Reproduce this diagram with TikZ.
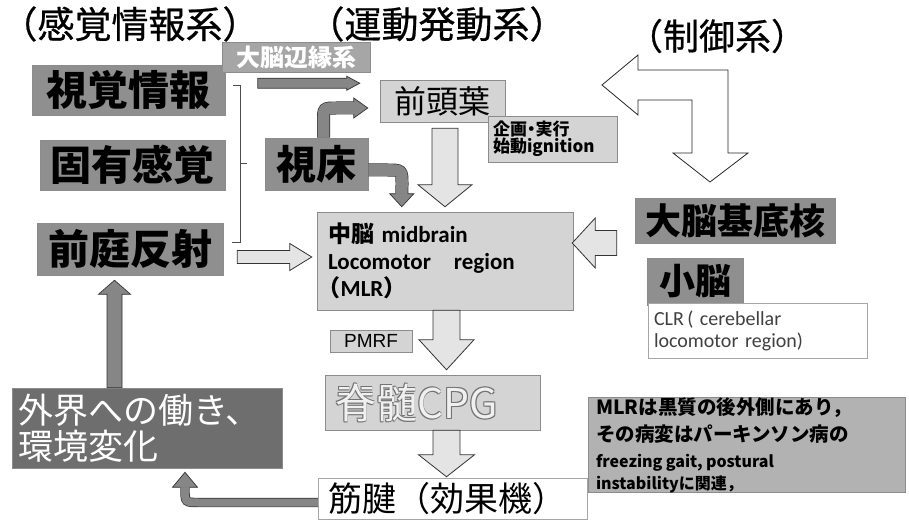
\documentclass[tikz,border=0pt]{standalone}
\usepackage{fontspec}
\setmainfont{Noto Sans CJK JP}
\newfontfamily\jpheavy{Noto Sans CJK JP}[FakeBold=0.6]
\newfontfamily\calfont{Carlito}
\newfontfamily\arialfont{Liberation Sans}
\usetikzlibrary{calc}
\definecolor{boxmid}{HTML}{8F8F8F}
\definecolor{boxlight}{HTML}{D4D4D4}
\definecolor{boxdark}{HTML}{6E6E6E}
\definecolor{arrgray}{HTML}{868686}
\definecolor{notegray}{HTML}{B2B2B2}
\definecolor{labgray}{HTML}{A6A6A6}
\definecolor{arrlight}{HTML}{E4E4E4}
\newcommand{\fixls}{\lineskiplimit=-100pt\relax}
\newcommand{\embtext}[1]{\leavevmode
 \rlap{\hspace{-0.9pt}\raisebox{0.9pt}{\textcolor{black!55}{#1}}}%
 \rlap{\hspace{0.9pt}\raisebox{-0.9pt}{\textcolor{black!55}{#1}}}%
 \rlap{\hspace{0.9pt}\raisebox{0.9pt}{\textcolor{black!55}{#1}}}%
 \rlap{\hspace{-0.9pt}\raisebox{-0.9pt}{\textcolor{black!55}{#1}}}%
 \textcolor{white!94!black}{#1}}
% block arrows: style, from, to, half shaft, half head, head length
\newcommand{\blkright}[6]{\draw[#1] let \p1=(#2), \p2=(#3) in (\x1,\y1+#4) -- (\x2-#6,\y1+#4) -- (\x2-#6,\y1+#5) -- (\x2,\y1) -- (\x2-#6,\y1-#5) -- (\x2-#6,\y1-#4) -- (\x1,\y1-#4) -- cycle;}
\newcommand{\blkleft}[6]{\draw[#1] let \p1=(#2), \p2=(#3) in (\x1,\y1+#4) -- (\x2+#6,\y1+#4) -- (\x2+#6,\y1+#5) -- (\x2,\y1) -- (\x2+#6,\y1-#5) -- (\x2+#6,\y1-#4) -- (\x1,\y1-#4) -- cycle;}
\newcommand{\blkdown}[6]{\draw[#1] let \p1=(#2), \p2=(#3) in (\x1-#4,\y1) -- (\x1-#4,\y2+#6) -- (\x1-#5,\y2+#6) -- (\x1,\y2) -- (\x1+#5,\y2+#6) -- (\x1+#4,\y2+#6) -- (\x1+#4,\y1) -- cycle;}
\newcommand{\blkup}[6]{\draw[#1] let \p1=(#2), \p2=(#3) in (\x1-#4,\y1) -- (\x1-#4,\y2-#6) -- (\x1-#5,\y2-#6) -- (\x1,\y2) -- (\x1+#5,\y2-#6) -- (\x1+#4,\y2-#6) -- (\x1+#4,\y1) -- cycle;}
% heads for curved dark arrows: tip, half shaft, half head, length
\newcommand{\headright}[4]{%
 \fill[arrgray] ($(#1)+(-#4,-#3)$) -- (#1) -- ($(#1)+(-#4,#3)$) -- cycle;
 \draw[darkhead] ($(#1)+(-#4,-#2)$) -- ($(#1)+(-#4,-#3)$) -- (#1) -- ($(#1)+(-#4,#3)$) -- ($(#1)+(-#4,#2)$);}
\newcommand{\headdown}[4]{%
 \fill[arrgray] ($(#1)+(-#3,-#4)$) -- (#1) -- ($(#1)+(#3,-#4)$) -- cycle;
 \draw[darkhead] ($(#1)+(-#2,-#4)$) -- ($(#1)+(-#3,-#4)$) -- (#1) -- ($(#1)+(#3,-#4)$) -- ($(#1)+(#2,-#4)$);}
\newcommand{\headup}[4]{%
 \fill[arrgray] ($(#1)+(-#3,#4)$) -- (#1) -- ($(#1)+(#3,#4)$) -- cycle;
 \draw[darkhead] ($(#1)+(-#2,#4)$) -- ($(#1)+(-#3,#4)$) -- (#1) -- ($(#1)+(#3,#4)$) -- ($(#1)+(#2,#4)$);}
\begin{document}
\begin{tikzpicture}[x=1pt,y=-1pt,
  title/.style={inner sep=0pt, font=\jpheavy\fontsize{37}{44}\selectfont},
  box/.style={rectangle, inner sep=0pt, draw=black!45, line width=0.5pt},
  midbox/.style={box, fill=boxmid, font=\bfseries\fontsize{41}{48}\selectfont},
  lightbox/.style={box, fill=boxlight},
  whitebox/.style={box, fill=white, draw=black!35},
  sz/.style 2 args={minimum width=#1pt, minimum height=#2pt},
  holl/.style={fill=arrlight, draw=black!80, line width=0.8pt, line join=miter},
  hollw/.style={fill=white, draw=black!85, line width=0.8pt, line join=miter},
  dark/.style={fill=arrgray, draw=black!80, line width=0.7pt},
  darkshaft/.style={draw=black!80, line width=0.7pt, double=arrgray},
  darkhead/.style={draw=black!80, line width=0.7pt},
  bracket/.style={draw=black!70, line width=0.6pt}
]
\useasboundingbox (0,0) rectangle (909,521);
\fill[white] (0,0) rectangle (909,521);

% titles
\node[title] (t1) at (130,24) {（感覚情報系）};
\node[title] (t2) at (437,24) {（運動発動系）};
\node[title, font=\jpheavy\fontsize{36}{42}\selectfont] (t3) at (717,36) {（制御系）};

% sensory column
\node[midbox, sz={193}{50}] (vis) at (128.5,90) {視覚情報};
\node[midbox, sz={185}{50}] (prop) at (132.5,165) {固有感覚};
\node[midbox, sz={186}{52}] (vest) at (130,249) {前庭反射};
\node[box, fill=boxdark, sz={270}{80}, inner xsep=6pt, text width=258pt, align=left, text=white, font=\fontsize{35}{36}\selectfont\fixls] (env) at (147,428) {外界への働き、\\環境変化};

% motor column
\node[box, fill=labgray, sz={148}{30}, text=white, font=\bfseries\fontsize{24}{28}\selectfont] (limbic) at (296,57) {大脳辺縁系};
\node[lightbox, sz={125}{42}, font=\fontsize{32}{36}\selectfont] (front) at (442.5,101) {前頭葉};
\node[lightbox, sz={129}{46}, inner xsep=5pt, text width=119pt, align=left, font=\bfseries\fontsize{17}{17}\selectfont\fixls] (plan) at (552.5,139) {企画\kern-0.25em・\kern-0.25em実行\\始動ignition};
\node[midbox, sz={103}{52}, font=\bfseries\fontsize{40}{46}\selectfont] (thal) at (316.5,164) {視床};
\node[lightbox, sz={256}{98}, inner xsep=11pt, text width=234pt, align=left, font=\bfseries\fontsize{23}{27}\selectfont\fixls] (mlr) at (445,261) {中脳 {\calfont midbrain}\\{\calfont Locomotor\ \ \ region}\\\hspace*{-0.45em}（{\calfont MLR}）};
\node[lightbox, sz={82}{22}, font=\arialfont\fontsize{19}{22}\selectfont] (pmrf) at (371,341) {PMRF};
\node[lightbox, sz={215}{55}, inner xsep=10pt, text width=195pt, align=left, font=\fontsize{41}{44}\selectfont] (cpg) at (432.5,402.5) {\embtext{脊髄CPG}};
\node[whitebox, sz={269}{41}, inner xsep=10pt, text width=249pt, align=left, font=\fontsize{34}{36}\selectfont] (musc) at (452.5,498.5) {筋腱（効果機）};

% control column
\node[midbox, sz={200}{45}, font=\bfseries\fontsize{36}{40}\selectfont] (bg) at (735,220.5) {大脳基底核};
\node[midbox, sz={96}{47}, font=\bfseries\fontsize{36}{40}\selectfont] (cb) at (695,281.5) {小脳};
\node[whitebox, sz={219}{55}, inner xsep=6pt, text width=207pt, align=left, text=black!75, font=\calfont\fontsize{20}{22}\selectfont\fixls] (clr) at (757.5,330.5) {CLR\,( cerebellar\\locomotor region)};
\node[box, fill=notegray, sz={317}{94}, inner xsep=8pt, text width=301pt, align=left, font=\bfseries\fixls] (note) at (746.5,445) {%
{\fontsize{19.5}{27}\selectfont\fixls MLRは黒質の後外側にあり，\par}%
{\fontsize{19.5}{27}\selectfont\fixls その病変はパーキンソン病の\par}%
{\fontsize{16}{26}\selectfont\fixls freezing gait, postural\par}%
{\fontsize{16}{22}\selectfont\fixls instabilityに関連，\par}};

% bracket joining the sensory inputs
\coordinate (brtop) at ($(vis.east)+(8,-5)$);
\coordinate (brbot) at ($(vest.east)+(9,-7)$);
\draw[bracket] (brtop) -- ++(7,0) |- (brbot);
\draw[bracket] ($(brtop)!0.5!(brbot)+(7,0)$) -- ++(7,0);

% hollow block arrows
\blkright{holl}{$(vest.east)+(14,8)$}{$(mlr.west)+(-5,0)$}{6.5pt}{13.5pt}{22pt}
\blkdown{holl}{$(front.south)+(2.5,6)$}{$(mlr.north)+(0,-5)$}{13pt}{27pt}{22pt}
\blkleft{holl}{$(bg.west)+(-18,22.5)$}{$(mlr.east)+(-1,0)$}{12.5pt}{25pt}{23pt}
\blkdown{holl}{$(mlr.south)+(1.5,0)$}{$(cpg.north)+(0,-5)$}{13.5pt}{27.5pt}{30pt}
\blkdown{holl}{$(cpg.south)+(14,0)$}{$(musc.north)+(0,-1)$}{13.5pt}{28pt}{22pt}

% dark block arrows
\blkup{dark}{$(env.north)+(-32.5,0)$}{$(vest.south)+(-15.5,5)$}{7.5pt}{16pt}{14pt}
\blkright{dark}{$(limbic.south west)+(36,11)$}{$(front.west)+(-20,0)$}{5pt}{7pt}{13pt}

% curved dark arrows from the thalamus
\coordinate (tipA) at ($(front.west)+(-12,7)$);
\draw[darkshaft, double distance=11.6pt] ($(thal.north)+(7,0)$) -- (323.5,121) .. controls (323.5,108) .. (336.5,108) -- ($(tipA)+(-14,0)$);
\headright{tipA}{6.15}{10}{14}
\coordinate (tipB) at ($(mlr.north west)+(85,-5)$);
\draw[darkshaft, double distance=11.6pt] ($(thal.east)+(0,6)$) -- (387,170) .. controls (402,170) .. (402,185) -- ($(tipB)+(0,-13)$);
\headdown{tipB}{6.15}{12}{13}

% feedback arrow from effector to environment
\coordinate (tipC) at ($(env.south)+(38,4)$);
\draw[darkshaft, double distance=8pt] ($(musc.west)+(0,4)$) -- (199,502.5) .. controls (185,502.5) .. (185,489) -- ($(tipC)+(0,15)$);
\headup{tipC}{4.35}{12.5}{15}

% control loop bent double arrow
\draw[hollw] (602,85) -- (638,55) -- (638,70) -- (728,70) -- (728,153) -- (748,153) -- (710,182) -- (673,153) -- (692,153) -- (692,100) -- (638,100) -- (638,115) -- cycle;
\end{tikzpicture}
\end{document}
